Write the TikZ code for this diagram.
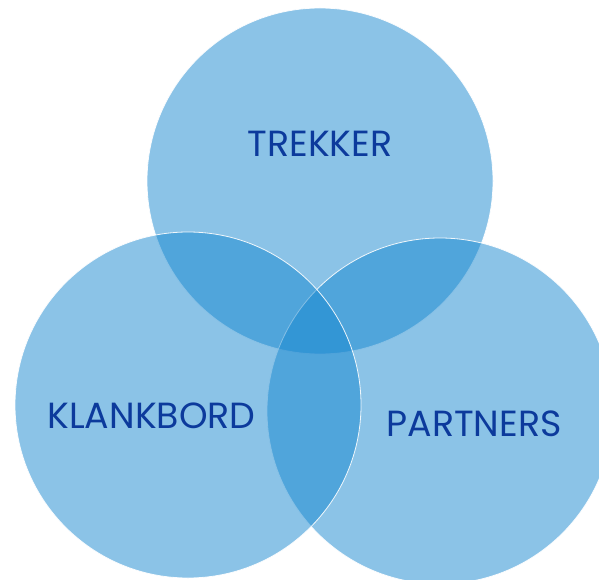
\documentclass[tikz,border=0pt]{standalone}
\usepackage{fontspec}
\setmainfont{Poppins}
\definecolor{vennblue}{RGB}{23,135,207}
\definecolor{labelblue}{RGB}{12,58,156}
\begin{document}
\begin{tikzpicture}[x=1bp,y=-1bp,
  venn/.style={circle, minimum size=346bp, inner sep=0pt, fill=vennblue, fill opacity=0.5, draw=white, draw opacity=0.9, line width=0.8bp},
  lbl/.style={anchor=base, text=labelblue, font=\fontsize{36.5}{36.5}\selectfont}]
\useasboundingbox (0,0) rectangle (599,580);
\clip (0,0) rectangle (599,580);
\node[venn] (top) at (320,181) {};
\node[venn] (right) at (440,411) {};
\node[venn] (left) at (188,405) {};
\node[lbl] (t1) at (320,157) {TREKKER};
\node[lbl] (t2) at (151.5,428) {KLANKBORD};
\node[lbl] (t3) at (474,436) {PARTNERS};
\end{tikzpicture}
\end{document}
